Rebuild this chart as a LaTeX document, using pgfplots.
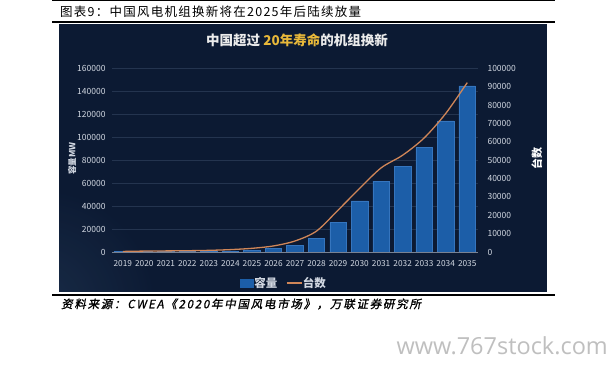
\documentclass[border=0pt]{standalone}
\usepackage{pgfplots}
\pgfplotsset{compat=1.18}
\usepackage{fontspec}
\setmainfont{Noto Sans CJK SC}
\newfontfamily\capfont[LetterSpace=10]{Noto Sans CJK SC}
\newfontfamily\cjkit[FakeSlant=0.2,FakeBold=1.2,LetterSpace=15]{Noto Sans CJK SC}
\newfontfamily\wm{Open Sans}
\definecolor{panelbg}{HTML}{0C1A33}
\definecolor{panelbg2}{HTML}{1C304C}
\definecolor{barblue}{HTML}{1C5EA8}
\definecolor{baredge}{HTML}{3575BE}
\definecolor{linec}{HTML}{D08658}
\definecolor{gridc}{HTML}{24344F}
\definecolor{tickc}{HTML}{D2D8E2}
\definecolor{goldc}{HTML}{E8B83A}
\pgfplotstableread{
x cap units
0 200 300
1 300 500
2 300 600
3 400 700
4 500 900
5 800 1300
6 1500 2000
7 3000 3300
8 6000 6000
9 12000 11400
10 26000 22800
11 44500 34600
12 61700 45800
13 74800 52700
14 91000 62100
15 114200 75400
16 144600 92200
}\datatable
\begin{document}
\begin{tikzpicture}
\fill[white] (0pt,0pt) rectangle (610pt,364pt);
% panel
\fill[panelbg] (59pt,72pt) rectangle (547pt,340pt);
\begin{scope}
\clip (59pt,72pt) rectangle (547pt,340pt);
\shade[inner color=panelbg2, outer color=panelbg, opacity=0.8] (40pt,60pt) circle (120pt);
\end{scope}
% rules
\draw[black, line width=0.8pt] (52pt,363.6pt) -- (555pt,363.6pt);
\draw[black, line width=2pt] (52pt,341.5pt) -- (555pt,341.5pt);
\draw[black, line width=2pt] (52pt,69.3pt) -- (555pt,69.3pt);
% caption
\node[anchor=west, font=\capfont\fontsize{12.5}{14}\selectfont, inner sep=0] at (60pt,352pt) {图表9：中国风电机组换新将在2025年后陆续放量};
\node[anchor=west, font=\cjkit\fontsize{11.5}{13}\selectfont, inner sep=0] at (61pt,60pt) {资料来源：CWEA《2020年中国风电市场》，万联证券研究所};
\node[anchor=east, font=\wm\fontsize{23.5}{26}\selectfont, text=black!25, inner sep=0] at (608pt,18pt) {www.767stock.com};
% inner title
\node[font=\fontsize{13.5}{15}\selectfont\bfseries, text=white!92!black] at (297pt,324pt) {中国超过 \textcolor{goldc}{20年寿命}的机组换新};
\begin{axis}[
  at={(112pt,112pt)}, anchor=south west,
  scale only axis, width=366pt, height=183.7pt,
  xmin=-0.5, xmax=16.5, ymin=0, ymax=160000,
  axis y line*=left, axis x line*=bottom,
  y axis line style={draw=none},
  x axis line style={draw=tickc!55!panelbg, line width=0.8pt, -},
  ytick={0,20000,40000,60000,80000,100000,120000,140000,160000},
  xtick={0,...,16},
  xticklabels={2019,2020,2021,2022,2023,2024,2025,2026,2027,2028,2029,2030,2031,2032,2033,2034,2035},
  major tick length=0pt,
  ymajorgrids, grid style={draw=gridc, line width=0.7pt},
  scaled y ticks=false,
  /pgf/number format/assume math mode=true,
  yticklabel style={/pgf/number format/fixed, /pgf/number format/1000 sep={}, text=tickc, font=\fontsize{8.5}{9}\selectfont, xshift=-3pt},
  xticklabel style={text=tickc, font=\fontsize{8.3}{9}\selectfont, yshift=-5pt},
  ylabel={容量MW},
  ylabel style={at={(rel axis cs:-0.109,0.51)}, anchor=center, text=tickc, font=\fontsize{8.5}{9}\selectfont\bfseries},
  legend style={at={(0.468,-0.169)}, anchor=center, draw=none, fill=none, text=tickc, font=\fontsize{11.5}{12}\selectfont\bfseries, legend columns=2, /tikz/every even column/.append style={column sep=8pt}, inner sep=0pt, nodes={inner xsep=0.5pt, inner ysep=1pt}},
  legend cell align=left,
]
\addplot[ybar, bar width=16.5pt, fill=barblue, draw=baredge, line width=0.6pt, area legend,
  legend image code/.code={\fill[barblue] (0pt,-4pt) rectangle (13pt,4pt);}] table[x=x,y=cap] {\datatable};
\addlegendentry{容量}
\addlegendimage{color=linec, line width=1.5pt, legend image code/.code={\draw[linec, line width=1.5pt] (0pt,0pt) -- (15pt,0pt);}}
\addlegendentry{台数}
\end{axis}
\begin{axis}[
  at={(112pt,112pt)}, anchor=south west,
  scale only axis, width=366pt, height=183.7pt,
  xmin=-0.5, xmax=16.5, ymin=0, ymax=100000,
  axis y line*=right, axis x line=none,
  y axis line style={draw=none},
  ytick={0,10000,20000,30000,40000,50000,60000,70000,80000,90000,100000},
  major tick length=0pt,
  scaled y ticks=false,
  /pgf/number format/assume math mode=true,
  yticklabel style={/pgf/number format/fixed, /pgf/number format/1000 sep={}, text=tickc, font=\fontsize{8.5}{9}\selectfont, xshift=6pt},
  ylabel={台数},
  ylabel style={at={(rel axis cs:1.161,0.51)}, anchor=center, rotate=0, text=white, font=\fontsize{11}{12}\selectfont\bfseries},
]
\addplot[smooth, color=linec, line width=1.3pt] table[x=x,y=units] {\datatable};
\end{axis}
\end{tikzpicture}
\end{document}
